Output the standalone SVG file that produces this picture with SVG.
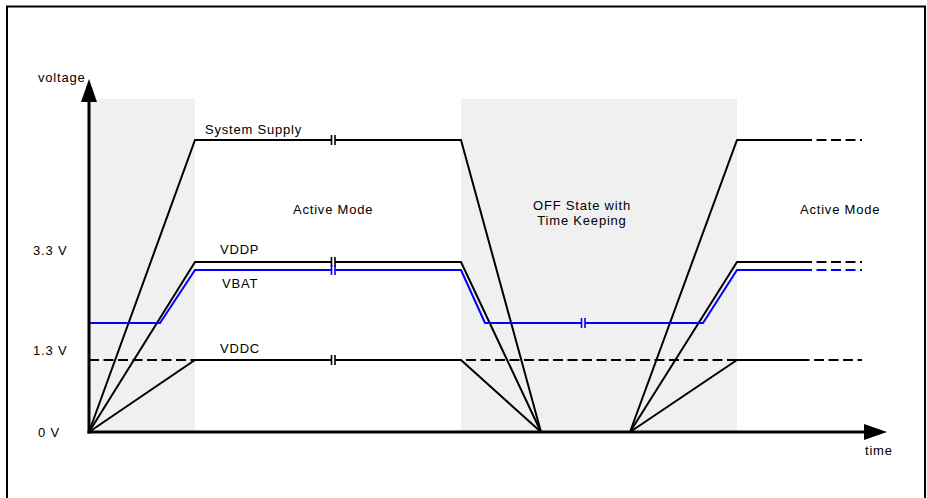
<svg xmlns="http://www.w3.org/2000/svg" width="927" height="498" viewBox="0 0 927 498">
<style>
text{font-family:"Liberation Sans",Arial,sans-serif;font-size:13px;letter-spacing:0.8px;fill:#000}
.k{fill:none;stroke:#000;stroke-width:2}
.b{fill:none;stroke:#0000ff;stroke-width:2}
.d{fill:none;stroke:#000;stroke-width:2;stroke-dasharray:10 4.5}
.db{fill:none;stroke:#0000ff;stroke-width:2;stroke-dasharray:10 4.5}
.gap{stroke:#fff;stroke-width:4}
.gapg{stroke:#f0f0f0;stroke-width:4}
.bar{stroke:#000;stroke-width:1.6}
.barb{stroke:#0000ff;stroke-width:1.6}
</style>
<rect width="927" height="498" fill="#fff"/>
<path d="M7,498 V6.5 H925 V498" fill="none" stroke="#000" stroke-width="2"/>
<g id="bands">
<rect x="89" y="99" width="106" height="333" fill="#f0f0f0"/>
<rect x="461" y="99" width="276" height="333" fill="#f0f0f0"/>
</g>
<g id="connectors">
<path class="d" d="M89,360 H862"/>
<path class="k" d="M89,432 L195,140 H461 L541,432"/>
<path class="k" d="M630,432 L737,140 H802"/>
<path class="d" d="M802,140 H862"/>
<path class="k" d="M89,432 L195,262 H461 L541,432"/>
<path class="k" d="M630,432 L737,262 H802"/>
<path class="d" d="M802,262 H862"/>
<path class="k" d="M89,432 L195,360 H461 L541,432"/>
<path class="k" d="M630,432 L737,360 H802"/>
<path class="b" d="M89,323 H160 L195,270 H461 L485,323 H703 L737,270 H802"/>
<path class="db" d="M802,270 H862"/>
<g id="breaks">
<line class="gap" x1="333.3" y1="136" x2="333.3" y2="144"/>
<line class="bar" x1="331.5" y1="135" x2="331.5" y2="145"/>
<line class="bar" x1="335" y1="135" x2="335" y2="145"/>
<line class="gap" x1="333.3" y1="258" x2="333.3" y2="274"/>
<line class="bar" x1="331.5" y1="257" x2="331.5" y2="267"/>
<line class="bar" x1="335" y1="257" x2="335" y2="267"/>
<line class="barb" x1="331.5" y1="265" x2="331.5" y2="275"/>
<line class="barb" x1="335" y1="265" x2="335" y2="275"/>
<line class="gap" x1="333.3" y1="356" x2="333.3" y2="364"/>
<line class="bar" x1="331.5" y1="355" x2="331.5" y2="365"/>
<line class="bar" x1="335" y1="355" x2="335" y2="365"/>
<line class="gapg" x1="583.3" y1="319" x2="583.3" y2="327"/>
<line class="barb" x1="581.5" y1="318" x2="581.5" y2="328"/>
<line class="barb" x1="585" y1="318" x2="585" y2="328"/>
</g>
</g>
<g id="axes">
<line x1="89" y1="433.5" x2="89" y2="100" stroke="#000" stroke-width="3"/>
<polygon points="89,79 81,102 97,102" fill="#000"/>
<line x1="87.5" y1="432" x2="865" y2="432" stroke="#000" stroke-width="3"/>
<polygon points="887,432 864,424 864,440" fill="#000"/>
</g>
<g id="labels">
<text x="38" y="82">voltage</text>
<text x="865" y="455">time</text>
<text x="33" y="255">3.3 V</text>
<text x="33" y="355">1.3 V</text>
<text x="38" y="437">0 V</text>
<text x="205" y="134">System Supply</text>
<text x="220" y="254">VDDP</text>
<text x="222" y="288">VBAT</text>
<text x="220" y="353">VDDC</text>
<text x="293" y="214">Active Mode</text>
<text x="582" y="210" text-anchor="middle">OFF State with</text>
<text x="582" y="225" text-anchor="middle">Time Keeping</text>
<text x="800" y="214">Active Mode</text>
</g>
</svg>
